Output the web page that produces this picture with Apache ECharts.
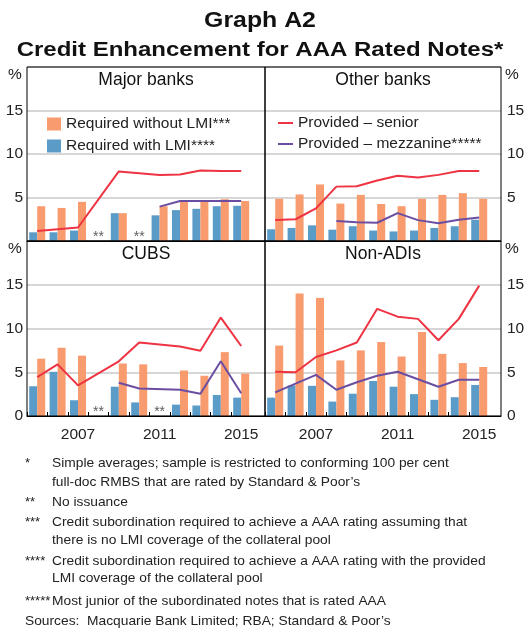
<!DOCTYPE html>
<html>
<head>
<meta charset="utf-8">
<script src="https://cdn.jsdelivr.net/npm/echarts@6/dist/echarts.min.js"></script>
<style>
html, body { margin: 0; padding: 0; background: #fff; }
#main { width: 532px; height: 630px; }
</style>
</head>
<body>
<div id="main"></div>
<script>
var FONT = '"Liberation Sans", Arial, sans-serif';
var ORANGE = '#f89b6e', BLUE = '#5a9bc8', RED = '#ee3342', PURPLE = '#6b4ea2';

// data, per cent
var years = [2005, 2006, 2007, 2008, 2009, 2010, 2011, 2012, 2013, 2014, 2015];
var xLabelYears = [2007, 2011, 2015];

var majorWithout = [4.0, 3.8, 4.5, null, 3.2, null, 4.0, 4.55, 4.6, 4.8, 4.6];
var majorWith    = [1.0, 1.0, 1.2, null, 3.2, null, 2.95, 3.55, 3.7, 4.0, 4.05];
var majorSenior  = [1.15, 1.35, 1.55, null, 8.0, null, 7.6, 7.65, 8.1, 8.05, 8.05];
var majorMezz    = [null, null, null, null, null, null, 3.95, 4.6, 4.6, 4.6, 4.6];

var otherWithout = [4.85, 5.35, 6.5, 4.3, 5.3, 4.25, 4.0, 4.85, 5.3, 5.5, 4.85];
var otherWith    = [1.35, 1.5, 1.8, 1.3, 1.7, 1.2, 1.1, 1.2, 1.5, 1.7, 2.45];
var otherSenior  = [2.4, 2.5, 3.75, 6.25, 6.3, 6.95, 7.5, 7.3, 7.6, 8.05, 8.05];
var otherMezz    = [null, null, null, 2.3, 2.15, 2.1, 3.2, 2.4, 2.05, 2.45, 2.7];

var cubsWithout  = [6.55, 7.8, 6.9, null, 6.0, 5.9, null, 5.2, 4.6, 7.3, 4.85];
var cubsWith     = [3.4, 5.05, 1.8, null, 3.35, 1.55, null, 1.3, 1.2, 2.4, 2.1];
var cubsSenior   = [4.45, 5.9, 3.5, null, 6.25, 8.4, null, 7.95, 7.45, 11.25, 8.0];
var cubsMezz     = [null, null, null, null, 3.8, 3.15, null, 3.0, 2.55, 6.25, 2.6];

var nonAdiWithout = [8.05, 14.0, 13.5, 6.35, 7.5, 8.45, 6.8, 9.6, 7.1, 6.05, 5.6];
var nonAdiWith    = [2.1, 3.5, 3.45, 1.65, 2.55, 4.0, 3.35, 2.5, 1.85, 2.15, 3.55];
var nonAdiSenior  = [5.05, 5.0, 6.75, 7.5, 8.4, 12.25, 11.35, 11.1, 8.65, 11.1, 14.9];
var nonAdiMezz    = [2.7, 3.7, 4.7, 3.0, 3.85, 4.6, 5.05, 4.2, 3.35, 4.15, 4.15];

var panelNames = ['Major banks', 'Other banks', 'CUBS', 'Non-ADIs'];
var withoutLMI = [majorWithout, otherWithout, cubsWithout, nonAdiWithout];
var withLMI = [majorWith, otherWith, cubsWith, nonAdiWith];
var senior = [majorSenior, otherSenior, cubsSenior, nonAdiSenior];
var mezz = [majorMezz, otherMezz, cubsMezz, nonAdiMezz];

// panel layout
var layout = [
    { left: 27,  top: 67,  width: 238, height: 174, side: 'left',  bottom: false },
    { left: 265, top: 67,  width: 236, height: 174, side: 'right', bottom: false },
    { left: 27,  top: 241, width: 238, height: 175, side: 'left',  bottom: true },
    { left: 265, top: 241, width: 236, height: 175, side: 'right', bottom: true }
];
var pxPerYear = 20.4;

function pairs(arr) {
    return years.map(function (y, k) { return [y, arr[k]]; });
}
function noIssue(arr) {
    var out = [];
    years.forEach(function (y, k) { if (arr[k] == null) out.push([y, 0]); });
    return out;
}

var grids = [], xAxes = [], yAxes = [], series = [], graphics = [];
var boundaries = years.map(function (y) { return y - 0.5; });

layout.forEach(function (p, i) {
    grids.push({ left: p.left, top: p.top, width: p.width, height: p.height, show: false });
    xAxes.push({
        type: 'value', gridIndex: i, min: 2004.5, max: 2004.5 + p.width / pxPerYear,
        splitLine: { show: false },
        axisLine: { show: true, onZero: false, lineStyle: { color: '#000', width: 1 } },
        axisTick: { show: p.bottom, inside: true, length: 4, customValues: boundaries, lineStyle: { color: '#000' } },
        axisLabel: {
            show: p.bottom, customValues: xLabelYears, margin: 11,
            formatter: function (v) { return String(v); },
            fontSize: 15.5, color: '#222', fontFamily: FONT
        }
    });
    yAxes.push({
        type: 'value', gridIndex: i, min: 0, max: 20, interval: 5, position: p.side,
        axisLine: { show: false }, axisTick: { show: false },
        splitLine: { show: true, lineStyle: { color: '#c8c8c8', width: 1.5 } },
        axisLabel: {
            customValues: p.bottom ? [0, 5, 10, 15] : [5, 10, 15],
            margin: p.side === 'left' ? 4 : 6,
            fontSize: 15.5, color: '#222', fontFamily: FONT
        }
    });

    series.push({
        type: 'bar', name: 'Required with LMI****', xAxisIndex: i, yAxisIndex: i,
        data: pairs(withLMI[i]), barWidth: 8, barGap: '0%', itemStyle: { color: BLUE }
    });
    series.push({
        type: 'bar', name: 'Required without LMI***', xAxisIndex: i, yAxisIndex: i,
        data: pairs(withoutLMI[i]), barWidth: 8, barGap: '0%', itemStyle: { color: ORANGE }
    });
    series.push({
        type: 'line', name: 'Provided \u2013 senior', xAxisIndex: i, yAxisIndex: i,
        data: pairs(senior[i]), connectNulls: true, symbol: 'none',
        lineStyle: { color: RED, width: 2 }, itemStyle: { color: RED }
    });
    series.push({
        type: 'line', name: 'Provided \u2013 mezzanine*****', xAxisIndex: i, yAxisIndex: i,
        data: pairs(mezz[i]), connectNulls: true, symbol: 'none',
        lineStyle: { color: PURPLE, width: 2 }, itemStyle: { color: PURPLE }
    });
    var ni = noIssue(withLMI[i]);
    if (ni.length) {
        series.push({
            type: 'scatter', name: 'no issuance', xAxisIndex: i, yAxisIndex: i,
            data: ni, symbolSize: 0, silent: true,
            label: { show: true, formatter: '**', position: 'top', distance: -3, fontSize: 14, color: '#333', fontFamily: FONT }
        });
    }

    // panel frame, title and % unit
    graphics.push({
        type: 'rect', z: 100, silent: true,
        shape: { x: p.left, y: p.top, width: p.width, height: p.height },
        style: { fill: 'none', stroke: '#000', lineWidth: 1 }
    });
    graphics.push({
        type: 'text', z: 100, x: p.left + p.width / 2, y: p.top + 13,
        style: { text: panelNames[i], font: '17.5px ' + FONT, fill: '#111', align: 'center', verticalAlign: 'middle' }
    });
    graphics.push({
        type: 'text', z: 100, x: p.side === 'left' ? 15 : 512, y: p.top + 8,
        style: { text: '%', font: '15.5px ' + FONT, fill: '#222', align: 'center', verticalAlign: 'middle' }
    });
});

// footnotes
var notes = [
    ['*', 'Simple averages; sample is restricted to conforming 100 per cent', 463],
    ['', 'full-doc RMBS that are rated by Standard & Poor\u2019s', 482.5],
    ['**', 'No issuance', 502],
    ['***', 'Credit subordination required to achieve a AAA rating assuming that', 522.5],
    ['', 'there is no LMI coverage of the collateral pool', 540],
    ['****', 'Credit subordination required to achieve a AAA rating with the provided', 561],
    ['', 'LMI coverage of the collateral pool', 578],
    ['*****', 'Most junior of the subordinated notes that is rated AAA', 601]
];
notes.forEach(function (n) {
    if (n[0]) graphics.push({
        type: 'text', x: 25, y: n[2],
        style: { text: n[0], font: '13px ' + FONT, fill: '#222', verticalAlign: 'middle' }
    });
    graphics.push({
        type: 'text', x: 52, y: n[2], scaleX: 1.06,
        style: { text: n[1], font: '13px ' + FONT, fill: '#222', verticalAlign: 'middle' }
    });
});
graphics.push({
    type: 'text', x: 25, y: 621.5, scaleX: 1.06,
    style: { text: 'Sources:  Macquarie Bank Limited; RBA; Standard & Poor\u2019s', font: '13px ' + FONT, fill: '#222', verticalAlign: 'middle' }
});
graphics.push({
    type: 'text', x: 260, y: 21, scaleX: 1.13,
    style: { text: 'Graph A2', font: 'bold 22px ' + FONT, fill: '#111', align: 'center', verticalAlign: 'middle' }
});
graphics.push({
    type: 'text', x: 260, y: 50, scaleX: 1.2,
    style: { text: 'Credit Enhancement for AAA Rated Notes*', font: 'bold 20px ' + FONT, fill: '#111', align: 'center', verticalAlign: 'middle' }
});

var chart = echarts.init(document.getElementById('main'));
chart.setOption({
    animation: false,
    backgroundColor: '#fff',
    grid: grids,
    xAxis: xAxes,
    yAxis: yAxes,
    legend: [
        {
            data: ['Required without LMI***', 'Required with LMI****'],
            orient: 'vertical', left: 47, top: 116, icon: 'rect', itemWidth: 14, itemHeight: 13, itemGap: 6,
            selectedMode: false, padding: 0,
            textStyle: { fontSize: 15.5, color: '#222', fontFamily: FONT }
        },
        {
            data: ['Provided \u2013 senior', 'Provided \u2013 mezzanine*****'],
            orient: 'vertical', left: 278, top: 115, icon: 'rect', itemWidth: 15, itemHeight: 2, itemGap: 5,
            selectedMode: false, padding: 0,
            textStyle: { fontSize: 15.5, color: '#222', fontFamily: FONT }
        }
    ],
    graphic: graphics,
    series: series
});
</script>
</body>
</html>
